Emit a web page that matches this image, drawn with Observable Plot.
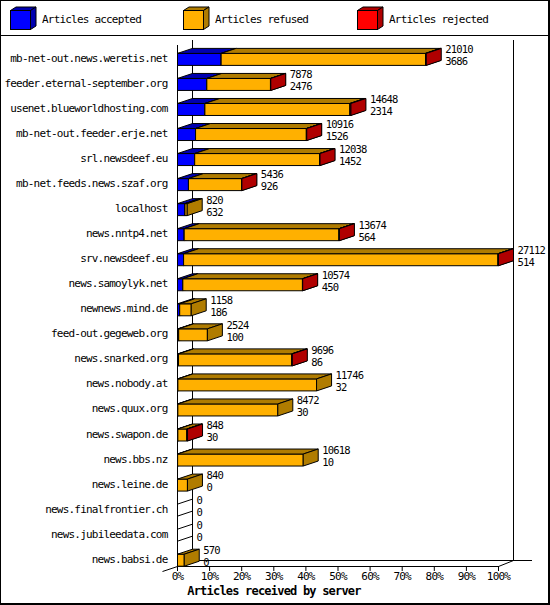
<!DOCTYPE html>
<html>
<head>
<meta charset="utf-8">
<script src="https://cdn.jsdelivr.net/npm/d3@7"></script>
<script src="https://cdn.jsdelivr.net/npm/@observablehq/plot@0.6"></script>
<style>
  html, body { margin: 0; padding: 0; background: #fff; }
  #wrap { position: relative; width: 550px; height: 605px; overflow: hidden; background: #fff;
          font-family: "DejaVu Sans Mono", monospace; font-size: 11px; letter-spacing: -0.8px; color: #000; }
  #legend { position: relative; height: 35px; border-bottom: 1px solid #000; }
  .item { position: absolute; top: 0; height: 35px; }
  .item svg { position: absolute; left: 0; top: 0; }
  .item span { position: absolute; top: 13px; white-space: nowrap; }
  #border { position: absolute; left: 0; top: 0; width: 550px; height: 605px; box-sizing: border-box;
            border: 1px solid #000; border-right-width: 2px; border-bottom-width: 2px; pointer-events: none; }
  #chart svg { display: block; }
</style>
</head>
<body>
<div id="wrap">
  <div id="legend"></div>
  <div id="chart"></div>
  <div id="border"></div>
</div>
<script>
// ---------------- data ----------------
const servers = [
  "mb-net-out.news.weretis.net",
  "feeder.eternal-september.org",
  "usenet.blueworldhosting.com",
  "mb-net-out.feeder.erje.net",
  "srl.newsdeef.eu",
  "mb-net.feeds.news.szaf.org",
  "localhost",
  "news.nntp4.net",
  "srv.newsdeef.eu",
  "news.samoylyk.net",
  "newnews.mind.de",
  "feed-out.gegeweb.org",
  "news.snarked.org",
  "news.nobody.at",
  "news.quux.org",
  "news.swapon.de",
  "news.bbs.nz",
  "news.leine.de",
  "news.finalfrontier.ch",
  "news.jubileedata.com",
  "news.babsi.de"
];
const totals   = [21010, 7878, 14648, 10916, 12038, 5436, 820, 13674, 27112, 10574, 1158, 2524, 9696, 11746, 8472, 848, 10618, 840, 0, 0, 570];
const accepted = [3686, 2476, 2314, 1526, 1452, 926, 632, 564, 514, 450, 186, 100, 86, 32, 30, 30, 10, 0, 0, 0, 0];
const rejected = [60, 25, 80, 30, 30, 20, 0, 30, 40, 20, 0, 0, 40, 0, 0, 60, 0, 0, 0, 0, 0];
const seriesNames = ["Articles accepted", "Articles refused", "Articles rejected"];
const frontColors = ["#0000ff", "#ffb000", "#ff0000"];
const shadeColors = ["#0000b0", "#b07c00", "#b00000"];
const xTicks = [0, 10, 20, 30, 40, 50, 60, 70, 80, 90, 100];
const xTitle = "Articles received by server";

// ---------------- legend ----------------
const legendX = [10, 183, 357];
const legend = document.getElementById("legend");
seriesNames.forEach((name, k) => {
  const it = document.createElement("div");
  it.className = "item";
  it.style.left = legendX[k] + "px";
  it.innerHTML =
    `<svg width="40" height="35">
       <polygon points="0.5,10.5 20.5,10.5 26,7 6,7" fill="${shadeColors[k]}" stroke="#000"/>
       <polygon points="20.5,10.5 26,7 26,26 20.5,29.5" fill="${shadeColors[k]}" stroke="#000"/>
       <rect x="0.5" y="10.5" width="20" height="19" fill="${frontColors[k]}" stroke="#000"/>
     </svg><span style="left:32px">${name}</span>`;
  legend.appendChild(it);
});

// ---------------- geometry ----------------
const W = 550, H = 569, ML = 177, MR = 52, MT = 0, MB = 39;
const n = servers.length;
const Y0 = 22.9, ROW = 25.04;                 // pixel position of first row and row pitch
const unitX = 100 / (W - ML - MR);            // percent per pixel
const unitY = 1 / ROW;                        // row index per pixel
const DX = 15 * unitX, DY = 5 * unitY, HALF = 6 * unitY;
const yIdx = p => (p - Y0) / ROW;             // pixel -> row index
const maxTotal = d3.max(totals);

// faces of the 3D stacked bars
const faces = [];
let fid = 0;
servers.forEach((s, i) => {
  const vals = [accepted[i], totals[i] - accepted[i] - rejected[i], rejected[i]];
  let acc = 0;
  vals.forEach((v, k) => {
    if (v <= 0) return;
    const a = acc / maxTotal * 100, b = (acc + v) / maxTotal * 100;
    acc += v;
    const yt = i - HALF, yb = i + HALF;
    const polys = [
      [frontColors[k], [[a, yt], [b, yt], [b, yb], [a, yb]]],
      [shadeColors[k], [[a, yt], [b, yt], [b + DX, yt - DY], [a + DX, yt - DY]]],
      [shadeColors[k], [[b, yt], [b + DX, yt - DY], [b + DX, yb - DY], [b, yb]]]
    ];
    polys.forEach(([c, pts]) => {
      fid++;
      pts.forEach(([x, y]) => faces.push({id: fid, x, y, color: c}));
    });
  });
});

const zeroRows = d3.range(n).filter(i => totals[i] === 0);
const zeroEdges = zeroRows.flatMap(i => [
  {x1: 0, y1: i - HALF, x2: DX, y2: i - HALF - DY},
  {x1: 0, y1: i + HALF, x2: DX, y2: i + HALF - DY}
]);

const labelRows = d3.range(n).map(i => ({i, total: totals[i], acc: accepted[i], x: totals[i] / maxTotal * 100 + DX}));

const yFloorBack = yIdx(524), yFloorFront = yIdx(530);

const chart = Plot.plot({
  width: W, height: H,
  marginLeft: ML, marginRight: MR, marginTop: MT, marginBottom: MB,
  x: {domain: [0, 100]},
  y: {domain: [0, n - 1], range: [Y0, Y0 + ROW * (n - 1)]},
  color: {type: "identity"},
  style: {fontFamily: "'DejaVu Sans Mono', monospace", fontSize: "11px", letterSpacing: "-0.8px", color: "#000", background: "#fff"},
  marks: [
    // frame
    Plot.ruleX([0], {y1: yIdx(9), y2: yIdx(535), stroke: "#000", strokeWidth: 1}),
    Plot.ruleX([DX, 100 + DX], {y1: yIdx(4), y2: yFloorBack, stroke: "#000", strokeWidth: 1}),
    Plot.ruleY([yFloorBack], {x1: DX, x2: 100 + DX + 19 * unitX, stroke: "#000", strokeWidth: 1}),
    Plot.ruleY([yFloorFront], {x1: 0, x2: 100, stroke: "#000", strokeWidth: 1}),
    Plot.link([
      {x1: 100, y1: yFloorFront, x2: 100 + DX, y2: yFloorBack},
      {x1: 0, y1: yFloorFront, x2: DX, y2: yFloorBack},
      {x1: -DX, y1: yIdx(535), x2: 0, y2: yFloorFront}
    ], {x1: "x1", y1: "y1", x2: "x2", y2: "y2", stroke: "#000", strokeWidth: 1}),
    Plot.link(zeroEdges, {x1: "x1", y1: "y1", x2: "x2", y2: "y2", stroke: "#000", strokeWidth: 1}),
    // bars
    Plot.line(faces, {x: "x", y: "y", z: "id", fill: "color", stroke: "#000", strokeWidth: 1,
                      curve: "linear-closed", strokeLinejoin: "miter", strokeLinecap: "butt"}),
    // value labels
    Plot.text(labelRows, {x: "x", y: "i", text: d => String(d.total), dx: 4, dy: -9.5, textAnchor: "start", fontSize: 10.5, fill: "#000"}),
    Plot.text(labelRows, {x: "x", y: "i", text: d => String(d.acc), dx: 4, dy: 2.5, textAnchor: "start", fontSize: 10.5, fill: "#000"}),
    // axes
    Plot.axisY(d3.range(n), {anchor: "left", tickSize: 0, tickPadding: 10, dy: -1, tickFormat: i => servers[i], label: null, fill: "#000"}),
    Plot.axisX(xTicks, {anchor: "bottom", tickSize: 5, tickPadding: 1, tickFormat: d => d + "%", label: null, fill: "#000"}),
    Plot.text([xTitle], {x: 30.06, frameAnchor: "bottom", dy: 28.5, textAnchor: "middle",
                         fontWeight: "bold", fontSize: 12, letterSpacing: "-0.3px", fill: "#000"})
  ]
});
document.getElementById("chart").appendChild(chart);
</script>
</body>
</html>
